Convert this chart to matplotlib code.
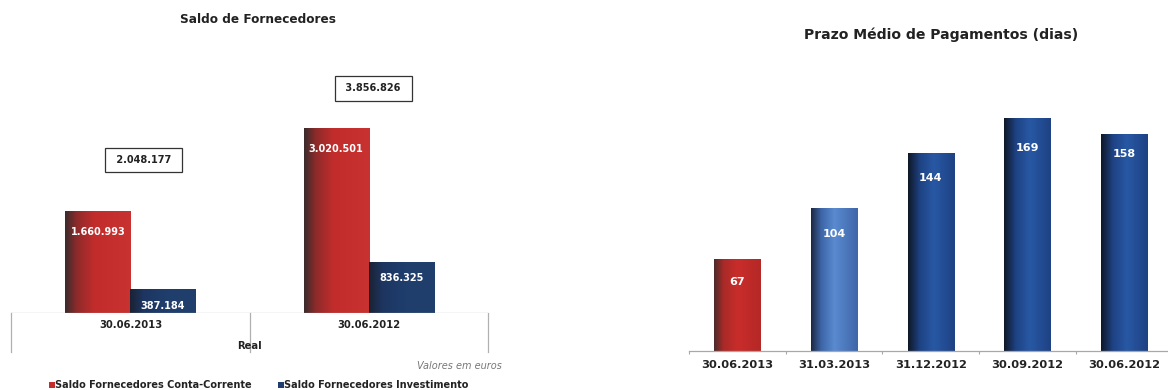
import numpy as np
import matplotlib
matplotlib.use("Agg")
import matplotlib.pyplot as plt
from matplotlib.colors import LinearSegmentedColormap
from matplotlib.patches import Rectangle
from matplotlib.transforms import blended_transform_factory

# ---------------- data ----------------
saldo_periods = ["30.06.2013", "30.06.2012"]
saldo_corrente = [1660993, 3020501]
saldo_investimento = [387184, 836325]
saldo_totals = [2048177, 3856826]
saldo_group_label = "Real"
saldo_legend = ["Saldo Fornecedores Conta-Corrente", "Saldo Fornecedores Investimento"]

pmp_periods = ["30.06.2013", "31.03.2013", "31.12.2012", "30.09.2012", "30.06.2012"]
pmp_days = [67, 104, 144, 169, 158]


def fmt_pt(v):
    return f"{v:,}".replace(",", ".")


W, H = 1168, 390
fig = plt.figure(figsize=(W / 100, H / 100), dpi=100)
fig.patch.set_facecolor("white")
plt.rcParams["font.family"] = ["DejaVu Sans"]


def px_rect(x0, y_top, x1, y_base):
    """figure-fraction rect from pixel coords (y measured from top)"""
    return [x0 / W, 1 - y_base / H, (x1 - x0) / W, (y_base - y_top) / H]


def shade(ax, patch, colors, stops):
    x0, y0 = patch.get_x(), patch.get_y()
    w, h = patch.get_width(), patch.get_height()
    cmap = LinearSegmentedColormap.from_list("s", list(zip(stops, colors)))
    grad = np.linspace(0, 1, 256)[None, :]
    im = ax.imshow(grad, extent=[x0, x0 + w, y0, y0 + h], aspect="auto",
                   cmap=cmap, zorder=patch.get_zorder() + 0.1, interpolation="bilinear")
    im.set_clip_path(patch)


RED_LEFT = (["#3a2c2c", "#8e2a2a", "#c22d2c", "#c83230"], [0, 0.18, 0.45, 1])
NAVY_LEFT = (["#1b2233", "#1d3560", "#1f3e6d", "#213f6c"], [0, 0.2, 0.55, 1])

# ---------------- left: Saldo de Fornecedores ----------------
axl = fig.add_axes(px_rect(11.3, 37.7, 487.7, 312.7))
bw = 0.273
x = np.arange(len(saldo_periods))
b1 = axl.bar(x - bw / 2, saldo_corrente, bw, color="#c22d2c", zorder=2)
b2 = axl.bar(x + bw / 2, saldo_investimento, bw, color="#1f3e6d", zorder=2)
for p in b1:
    shade(axl, p, *RED_LEFT)
for p in b2:
    shade(axl, p, *NAVY_LEFT)
axl.set_xlim(-0.5, 1.5)
axl.set_ylim(0, 4.5e6)

for bars, vals, off in ((b1, saldo_corrente, -21), (b2, saldo_investimento, -16.5)):
    for p, v in zip(bars, vals):
        axl.annotate(fmt_pt(v), (p.get_x() + p.get_width() / 2, v),
                     xytext=(0, off * 0.72), textcoords="offset points",
                     ha="center", va="center", color="white", fontsize=7,
                     fontweight="bold", zorder=5)

# total boxes above each group
box_x = [0.055, 1.02]
box_y = [2.50e6, 3.67e6]
for bx, by, t in zip(box_x, box_y, saldo_totals):
    axl.text(bx, by, " " + fmt_pt(t) + " ", ha="center", va="center", fontsize=7,
             fontweight="bold", color="#222222",
             bbox=dict(boxstyle="square,pad=0.75", fc="white", ec="#333333", lw=0.9))

for s in axl.spines.values():
    s.set_visible(False)
axl.set_yticks([])
axl.set_xticks(x)
axl.set_xticklabels(saldo_periods, fontsize=7.2, fontweight="bold", color="#222222")
axl.tick_params(axis="x", length=0, pad=5.3)
axl.axhline(0, color="#b0b0b0", lw=0.9, zorder=3)
tr = blended_transform_factory(axl.transData, axl.transAxes)
bottom = -39.0 / 275.0
for xv in (-0.5, 0.5, 1.5):
    axl.plot([xv, xv], [0, bottom], transform=tr, color="#b0b0b0", lw=0.9, clip_on=False)
axl.text(0.5, -33.0 / 275.0, saldo_group_label, transform=tr, ha="center", va="center",
         fontsize=7.2, fontweight="bold", color="#222222")

fig.text(257.7 / W, 1 - 19.3 / H, "Saldo de Fornecedores", ha="center", va="center",
         fontsize=8.7, fontweight="bold", color="#222222")
fig.text(502 / W, 1 - 365.7 / H, "Valores em euros", ha="right", va="center",
         fontsize=7, style="italic", color="#777777")

# legend
for sx, col, lab in ((49.3, "#c22d2c", saldo_legend[0]), (278, "#1f3e6d", saldo_legend[1])):
    fig.patches.append(Rectangle((sx / W, 1 - 388 / H), 5.5 / W, 6 / H,
                                 transform=fig.transFigure, fc=col, ec="none"))
    fig.text((sx + 6) / W, 1 - 385 / H, lab, ha="left", va="center",
             fontsize=7, fontweight="bold", color="#222222")

# ---------------- right: Prazo Médio de Pagamentos ----------------
axr = fig.add_axes(px_rect(688.9, 75.9, 1172.6, 350.7))
xr = np.arange(len(pmp_days))
bar_colors = ["#c42a28", "#5080c8"] + ["#244f99"] * 3
br = axr.bar(xr, pmp_days, 0.48, color=bar_colors, zorder=2)
shades = [
    (["#4a2b2b", "#a82a28", "#c92d2b", "#b42826"], [0, 0.2, 0.5, 1]),
    (["#1c2840", "#3d66a8", "#5a8ad0", "#3e66a8"], [0, 0.22, 0.5, 1]),
] + [(["#0f1726", "#1e4283", "#2858a4", "#1e4283"], [0, 0.25, 0.55, 1])] * 3
for p, sh in zip(br, shades):
    shade(axr, p, *sh)
axr.set_xlim(-0.5, 4.5)
axr.set_ylim(0, 200)

label_offsets = [-23, -26, -25, -30, -20]
for p, v, off in zip(br, pmp_days, label_offsets):
    axr.annotate(str(v), (p.get_x() + p.get_width() / 2, v),
                 xytext=(0, off * 0.72), textcoords="offset points",
                 ha="center", va="center", color="white", fontsize=8,
                 fontweight="bold", zorder=5)

for s in axr.spines.values():
    s.set_visible(False)
axr.axhline(0, color="#a8a8a8", lw=0.9, zorder=3, clip_on=False)
axr.set_yticks([])
axr.set_xticks(xr)
axr.set_xticklabels(pmp_periods, fontsize=8.2, fontweight="bold", color="#222222")
axr.tick_params(axis="x", which="major", length=0, pad=6.5)
axr.set_xticks(np.arange(-0.5, 4.6, 1.0), minor=True)
axr.tick_params(axis="x", which="minor", length=2.5, color="#a8a8a8", width=0.8)

fig.text(940.7 / W, 1 - 35 / H, "Prazo Médio de Pagamentos (dias)", ha="center",
         va="center", fontsize=10.1, fontweight="bold", color="#222222")

fig.savefig("out.png", dpi=100, facecolor="white")
